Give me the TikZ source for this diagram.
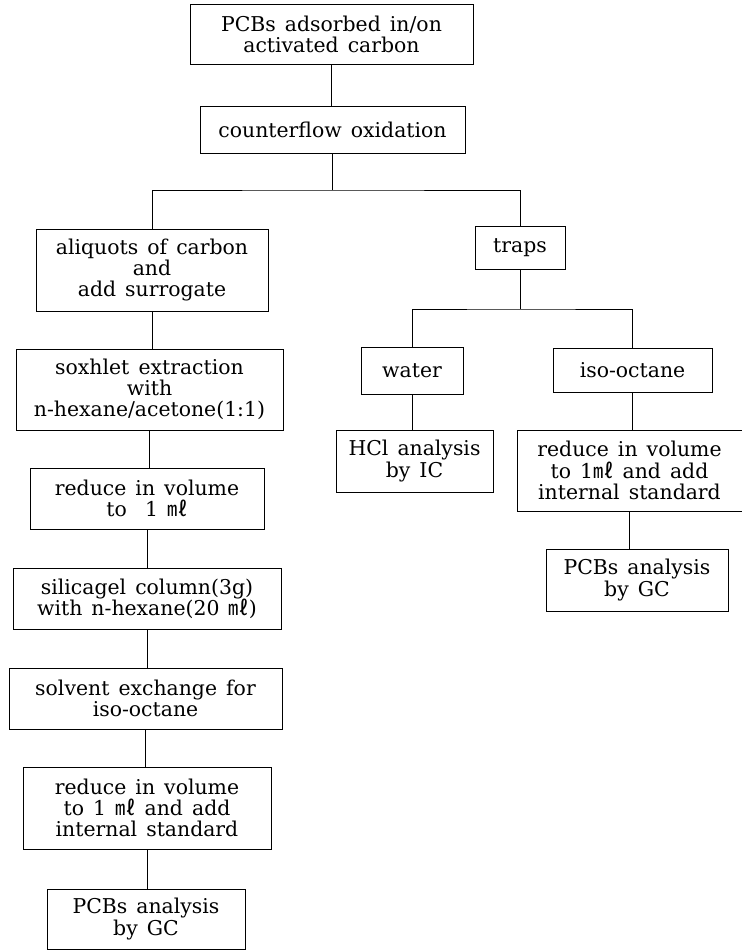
\documentclass[tikz,border=0pt]{standalone}
\usepackage{fontspec}
\setmainfont[WordSpace=1.4]{DejaVu Serif}
\newfontfamily\cjk{Noto Sans CJK KR}
\newcommand{\ml}{{\cjk ㎖}}
\usepackage{tikz}

\begin{document}
\begin{tikzpicture}[x=0.75pt,y=-0.75pt,
  stage/.style={draw,line width=0.7pt,align=center,inner sep=0pt,
    font=\fontsize{15.3}{15.9}\selectfont},
  link/.style={line width=0.7pt}]
\useasboundingbox (0,0) rectangle (742,950);
% main column
\node[stage,minimum width=212.25pt,minimum height=45pt] (pcb) at (331.5,34) {PCBs adsorbed in/on\\activated carbon};
\node[stage,minimum width=198.75pt,minimum height=35.25pt] (oxid) at (332.5,129.5) {counterflow oxidation};
\coordinate (split1) at (330,190);
% left branch
\node[stage,minimum width=174pt,minimum height=61.5pt] (aliq) at (152,270) {aliquots of carbon\\and\\add surrogate};
\node[stage,minimum width=200.25pt,minimum height=60.75pt] (soxh) at (149.5,389.5) {soxhlet extraction\\with\\n-hexane/acetone(1:1)};
\node[stage,minimum width=175.5pt,minimum height=45.75pt] (redA) at (147,498.5) {reduce in volume\\to~ 1 \ml};
\node[stage,minimum width=201pt,minimum height=45.75pt] (silica) at (147,598.5) {silicagel column(3g)\\with n-hexane(20 \ml)};
\node[stage,minimum width=204.75pt,minimum height=45.75pt] (solv) at (145.5,698.5) {solvent exchange for\\iso-octane};
\node[stage,minimum width=186pt,minimum height=61.5pt] (redB) at (147,808) {reduce in volume\\to 1 \ml{} and add\\internal standard};
\node[stage,minimum width=148.5pt,minimum height=45pt] (gcA) at (146,919) {PCBs analysis\\by GC};
% right branch
\node[stage,minimum width=67.5pt,minimum height=32.25pt] (traps) at (520,247.5) {traps};
\coordinate (split2) at (520,309);
\node[stage,minimum width=76.5pt,minimum height=35.25pt] (water) at (412,370.5) {water};
\node[stage,minimum width=119.25pt,minimum height=33pt] (iso) at (632.5,370) {iso-octane};
\node[stage,minimum width=117.75pt,minimum height=46.5pt] (hcl) at (414.5,461) {HCl analysis\\by IC};
\node[stage,minimum width=168.75pt,minimum height=60.75pt] (redC) at (629.5,470.5) {reduce in volume\\to 1\ml{} and add\\internal standard};
\node[stage,minimum width=136.5pt,minimum height=46.5pt] (gcB) at (637,580) {PCBs analysis\\by GC};

\draw[link] (pcb.south) -- (pcb.south |- oxid.north);
\draw[link] (oxid.south) -- (oxid.south |- split1);
\draw[link] (aliq.north) |- (split1) -| (traps.north);
\draw[link] (aliq.south) -- (aliq.south |- soxh.north);
\draw[link] (soxh.south) -- (soxh.south |- redA.north);
\draw[link] (redA.south) -- (redA.south |- silica.north);
\draw[link] (silica.south) -- (silica.south |- solv.north);
\draw[link] (solv.south) -- (solv.south |- redB.north);
\draw[link] (redB.south) -- (redB.south |- gcA.north);
\draw[link] (traps.south) -- (split2);
\draw[link] (water.north) |- (split2) -| (iso.north);
\draw[link] (water.south) -- (water.south |- hcl.north);
\draw[link] (iso.south) -- (iso.south |- redC.north);
\draw[link] (redC.south) -- (redC.south |- gcB.north);
\end{tikzpicture}
\end{document}
